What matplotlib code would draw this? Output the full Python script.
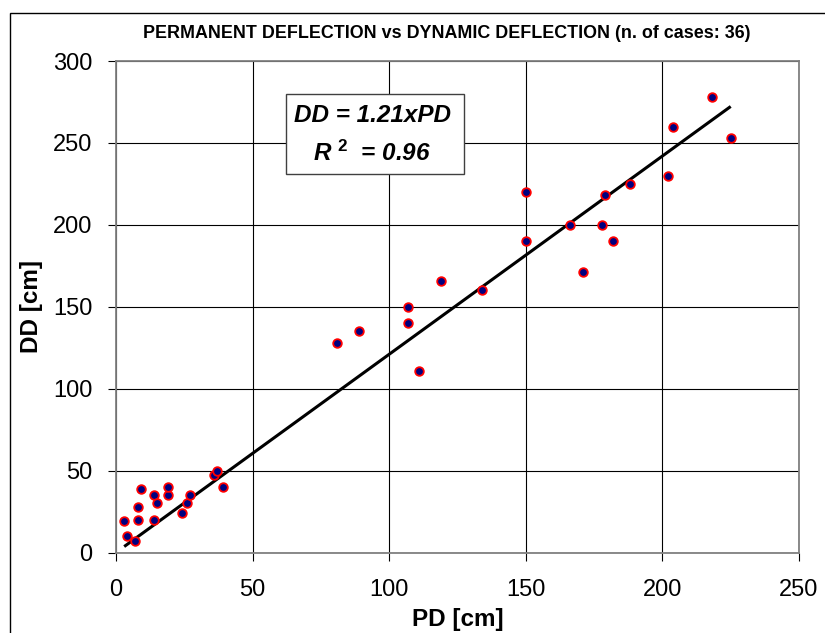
import matplotlib
matplotlib.use("Agg")
import matplotlib.pyplot as plt
from matplotlib.patches import Rectangle
import numpy as np

plt.rcParams['font.family'] = ['Liberation Sans', 'DejaVu Sans']
plt.rcParams['mathtext.fontset'] = 'custom'
plt.rcParams['mathtext.it'] = 'Liberation Sans:italic:bold'
plt.rcParams['mathtext.rm'] = 'Liberation Sans:bold'

# ---- data ----
PD = [3, 4, 7, 8, 8, 9, 14, 14, 15, 19, 19, 24, 26, 27, 36, 37, 39,
      81, 89, 107, 107, 111, 119, 134, 150, 150,
      166, 171, 178, 182, 179, 188, 202, 204, 218, 225]
DD = [19, 10, 7, 20, 28, 39, 20, 35, 30, 35, 40, 24, 30, 35, 47, 50, 40,
      128, 135, 150, 140, 111, 166, 160, 190, 220,
      200, 171, 200, 190, 218, 225, 230, 260, 278, 253]
SLOPE = 1.21
R2 = 0.96
x_ticks = [0, 50, 100, 150, 200, 250]
y_ticks = [0, 50, 100, 150, 200, 250, 300]
title = "PERMANENT DEFLECTION vs DYNAMIC DEFLECTION (n. of cases: 36)"

W, H = 825, 633
fig = plt.figure(figsize=(W / 100, H / 100), dpi=100)
ax = fig.add_axes([116 / W, 1 - 552.5 / H, (799 - 116) / W, (552.5 - 61) / H])

# figure border (cropped at right/bottom)
fig.patches.append(Rectangle((10 / W, -0.2), 2.0, 1 - 13 / H + 0.2,
                             transform=fig.transFigure, fill=False,
                             edgecolor='#000000', linewidth=1.0))

ax.set_xlim(0, 250)
ax.set_ylim(0, 300)
ax.set_xticks(x_ticks)
ax.set_yticks(y_ticks)
ax.grid(True, color='black', linewidth=0.8, zorder=0)
ax.set_axisbelow(True)
for s in ax.spines.values():
    s.set_color('#808080')
    s.set_linewidth(1.3)
ax.tick_params(direction='out', length=6, width=0.8, color='black',
               labelsize=17)
ax.tick_params(axis='y', pad=11)
ax.tick_params(axis='x', pad=13)

# regression line
xl = np.array([min(PD), max(PD)])
ax.plot(xl, SLOPE * xl, color='black', linewidth=2.2, zorder=3,
        solid_capstyle='butt')

# points
ax.plot(PD, DD, linestyle='none', marker='o', markersize=6.2,
        markerfacecolor='#000080', markeredgecolor='#FF0000',
        markeredgewidth=1.3, zorder=4)

ax.set_xlabel("PD [cm]", fontsize=17.5, fontweight='bold', va='center')
ax.xaxis.set_label_coords(0.5, -0.137)
ax.set_ylabel("DD [cm]", fontsize=17.5, fontweight='bold', va='center')
ax.yaxis.set_label_coords(-0.1234, 0.5)

fig.text(447 / W, 1 - 34 / H, title, ha='center', va='center',
         fontsize=12.9, fontweight='bold')

# equation box
ax.add_patch(Rectangle((0.2485, 0.7695), 0.5095 - 0.2485, 0.9322 - 0.7695,
                       transform=ax.transAxes, facecolor='white',
                       edgecolor='#404040', linewidth=1.0, zorder=5))
ax.text(0.3755, 0.890, "DD = %.2fxPD" % SLOPE, transform=ax.transAxes,
        ha='center', va='center', fontsize=17.5, fontweight='bold',
        fontstyle='italic', zorder=6)
ax.text(0.3755, 0.8128, r"$R^{\ \mathit{2}}$  = %.2f" % R2, transform=ax.transAxes,
        ha='center', va='center', fontsize=17.5, fontweight='bold',
        fontstyle='italic', zorder=6)

fig.savefig("out.png", dpi=100)
